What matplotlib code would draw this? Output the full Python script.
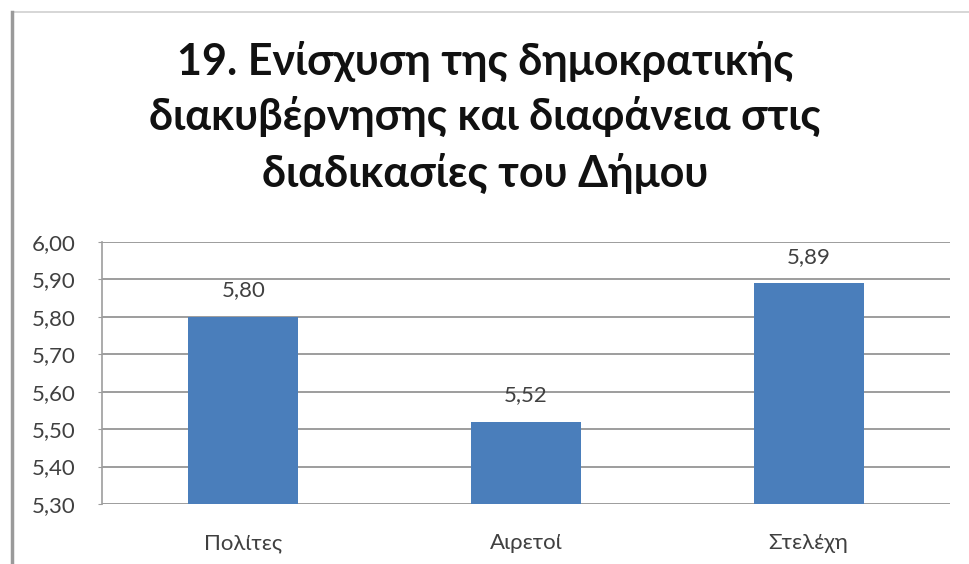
import matplotlib
matplotlib.use("Agg")
import matplotlib.pyplot as plt

plt.rcParams['font.family'] = ['Lato', 'Noto Sans', 'DejaVu Sans']

# data
groups = ["Πολίτες", "Αιρετοί", "Στελέχη"]
scores = [5.80, 5.52, 5.89]
score_labels = ["5,80", "5,52", "5,89"]
yticks = [5.30, 5.40, 5.50, 5.60, 5.70, 5.80, 5.90, 6.00]
ytick_labels = ["5,30", "5,40", "5,50", "5,60", "5,70", "5,80", "5,90", "6,00"]
title_lines = ["19. Ενίσχυση της δημοκρατικής",
               "διακυβέρνησης και διαφάνεια στις",
               "διαδικασίες του Δήμου"]

W, H = 969, 564
fig = plt.figure(figsize=(W / 100, H / 100), dpi=100)
fig.patch.set_facecolor('white')

# chart frame: thin top edge, darker left edge
fig.add_artist(plt.Line2D([12 / W, 1], [1 - 12 / H, 1 - 12 / H], transform=fig.transFigure,
                          color='#d0d0d0', linewidth=1.2))
fig.add_artist(plt.Line2D([11.5 / W, 11.5 / W], [0, 1 - 12 / H], transform=fig.transFigure,
                          color='#9a9a9a', linewidth=2.5))

ax = fig.add_axes([102 / W, 1 - 504 / H, (950 - 102) / W, (504 - 242) / H])
x = range(len(groups))
bars = ax.bar(x, scores, width=0.39, color='#4a7ebb', zorder=3)

for b, lab in zip(bars, score_labels):
    ax.annotate(lab, (b.get_x() + b.get_width() / 2, b.get_height()),
                xytext=(0, 19), textcoords='offset points', ha='center', va='center',
                fontsize=16, color='#404040')

ax.set_ylim(5.30, 6.00)
ax.set_xlim(-0.5, 2.5)
ax.set_yticks(yticks)
ax.set_yticklabels(ytick_labels)
ax.set_xticks(list(x))
ax.set_xticklabels(groups)
ax.yaxis.grid(True, color='#9d9d9d', linewidth=1.4, zorder=0)
ax.set_axisbelow(True)

for s in ['top', 'right', 'bottom']:
    ax.spines[s].set_visible(False)
ax.spines['left'].set_color('#9d9d9d')
ax.spines['left'].set_linewidth(1.2)
ax.tick_params(axis='y', length=3, color='#9d9d9d', pad=16, labelsize=16, labelcolor='#404040')
ax.tick_params(axis='x', length=0, pad=21, labelsize=16, labelcolor='#404040')

for line, yb in zip(title_lines, [75, 130, 187]):
    fig.text(485 / W, 1 - yb / H, line, ha='center', va='baseline',
             fontsize=31, fontweight='bold', color='#111111')

fig.savefig('out.png', dpi=100)
